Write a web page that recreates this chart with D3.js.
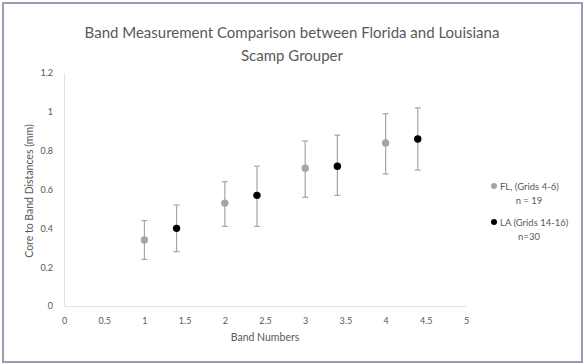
<!DOCTYPE html>
<html lang="en">
<head>
<meta charset="UTF-8">
<title>Band Measurement Comparison</title>
<script src="https://d3js.org/d3.v7.min.js"></script>
<style>
  body { margin: 0; background: #fff; }
  svg text { font-family: Lato, "Open Sans", sans-serif; fill: #595959; }
</style>
</head>
<body>
<svg id="chart"></svg>
<script>
// data
const flBands = [1, 2, 3, 4];
const flMeans = [0.34, 0.53, 0.71, 0.84];
const flLow   = [0.24, 0.41, 0.56, 0.68];
const flHigh  = [0.44, 0.64, 0.85, 0.99];

const laBands = [1.4, 2.4, 3.4, 4.4];
const laMeans = [0.40, 0.57, 0.72, 0.86];
const laLow   = [0.28, 0.41, 0.57, 0.70];
const laHigh  = [0.52, 0.72, 0.88, 1.02];

const xTicks = [0, 0.5, 1, 1.5, 2, 2.5, 3, 3.5, 4, 4.5, 5];
const yTicks = [0, 0.2, 0.4, 0.6, 0.8, 1, 1.2];

const legendLines = [
  ["FL, (Grids 4-6)", "n = 19"],
  ["LA (Grids 14-16)", "n=30"]
];

const W = 584, H = 364;
const svg = d3.select("#chart").attr("width", W).attr("height", H);

// frame
svg.append("rect")
  .attr("x", 3).attr("y", 3).attr("width", W - 5).attr("height", H - 5)
  .attr("fill", "#fff").attr("stroke", "#9c9cb0").attr("stroke-width", 2);

const x = d3.scaleLinear().domain([0, 5]).range([64, 466]);
const y = d3.scaleLinear().domain([0, 1.2]).range([306, 73]);

// title
svg.append("text").attr("x", 292).attr("y", 38).attr("text-anchor", "middle")
  .style("font-size", "15px").text("Band Measurement Comparison between Florida and Louisiana");
svg.append("text").attr("x", 292).attr("y", 61).attr("text-anchor", "middle")
  .style("font-size", "15px").text("Scamp Grouper");

// axes
const xAxis = svg.append("g").attr("transform", "translate(0,306)")
  .call(d3.axisBottom(x).tickValues(xTicks).tickSize(0).tickPadding(12).tickFormat(d3.format("")));
const yAxis = svg.append("g").attr("transform", "translate(64,0)")
  .call(d3.axisLeft(y).tickValues(yTicks).tickSize(0).tickPadding(11).tickFormat(d3.format("")));
[xAxis, yAxis].forEach(a => {
  a.select(".domain").attr("stroke", "#e3e3e3");
  a.selectAll("text").style("font-size", "9px").style("font-family", "Lato, sans-serif").attr("fill", "#6a6a6a");
});

svg.append("text").attr("x", 265).attr("y", 341).attr("text-anchor", "middle")
  .style("font-size", "10.5px").text("Band Numbers");
svg.append("text").attr("transform", "translate(33,191) rotate(-90)").attr("text-anchor", "middle")
  .style("font-size", "10.5px").text("Core to Band Distances (mm)");

function drawSeries(bands, means, low, high, color) {
  const g = svg.append("g");
  const rows = bands.map((b, i) => ({ b, m: means[i], lo: low[i], hi: high[i] }));
  const barColor = "#a6a6a6";
  g.selectAll(".err").data(rows).enter().append("line")
    .attr("x1", d => x(d.b)).attr("x2", d => x(d.b))
    .attr("y1", d => y(d.lo)).attr("y2", d => y(d.hi))
    .attr("stroke", barColor).attr("stroke-width", 1.2);
  ["lo", "hi"].forEach(k => {
    g.selectAll(".cap" + k).data(rows).enter().append("line")
      .attr("x1", d => x(d.b) - 3).attr("x2", d => x(d.b) + 3)
      .attr("y1", d => y(d[k])).attr("y2", d => y(d[k]))
      .attr("stroke", barColor).attr("stroke-width", 1.2);
  });
  g.selectAll("circle").data(rows).enter().append("circle")
    .attr("cx", d => x(d.b)).attr("cy", d => y(d.m)).attr("r", 3.7)
    .attr("fill", color);
}
drawSeries(flBands, flMeans, flLow, flHigh, "#a5a5a5");
drawSeries(laBands, laMeans, laLow, laHigh, "#000000");

// legend
const legColors = ["#a5a5a5", "#000000"];
legendLines.forEach((lines, i) => {
  const ly = 186 + i * 36;
  svg.append("circle").attr("cx", 494).attr("cy", ly).attr("r", 3).attr("fill", legColors[i]);
  svg.append("text").attr("x", 500).attr("y", ly + 3.5).style("font-size", "9.5px").text(lines[0]);
  svg.append("text").attr("x", 529).attr("y", ly + 17.5).attr("text-anchor", "middle")
    .style("font-size", "9.5px").text(lines[1]);
});
</script>
</body>
</html>
